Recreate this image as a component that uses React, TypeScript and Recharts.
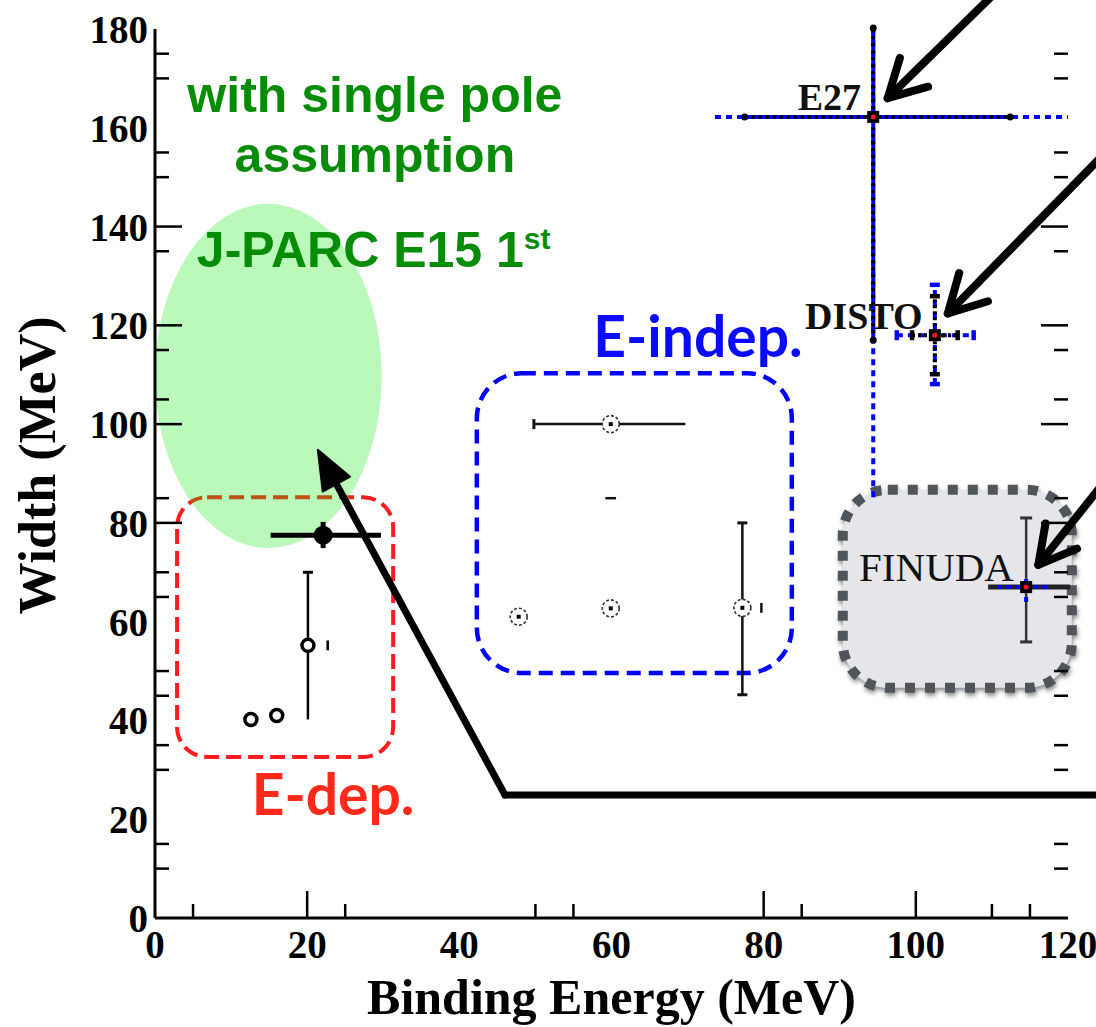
import React from 'react';
import {
  ScatterChart,
  Scatter,
  XAxis,
  YAxis,
  ReferenceLine,
  ReferenceArea,
  ReferenceDot,
} from 'recharts';

// axes
const BE_DOMAIN: [number, number] = [0, 120];
const WIDTH_DOMAIN: [number, number] = [0, 180];

const xLabelTicks = [0, 20, 40, 60, 80, 100, 120];
const xMajorMarks = [20, 80, 100];
const xMinorMarks = [5, 25, 50, 55, 85, 110, 115];
const yLabelTicks = [0, 20, 40, 60, 80, 100, 120, 140, 160, 180];
const yMajorMarks = [80, 100, 120, 140];
const yMinorMarks = [10, 15, 30, 35, 45, 50, 65, 70, 85, 105, 115, 135, 150, 155, 170, 175];

// binding energy (MeV) vs width (MeV)
const eDepOpen = [
  { be: 12.6, w: 40.2 },
  { be: 16.0, w: 41.0 },
  { be: 20.1, w: 55.2 },
];
const eDepFilled = [{ be: 22.1, w: 77.5 }];
const eIndep = [
  { be: 47.8, w: 61.0 },
  { be: 59.9, w: 62.7 },
  { be: 59.9, w: 100.0 },
  { be: 77.2, w: 62.8 },
];
const experiments = [
  { name: 'E27', be: 94.4, w: 162.2 },
  { name: 'DISTO', be: 102.5, w: 118.0 },
  { name: 'FINUDA', be: 114.5, w: 67.0 },
];

type Seg = { from: [number, number]; to: [number, number]; caps?: [boolean, boolean] };

const eDepErrors: Seg[] = [
  { from: [20.1, 40.2], to: [20.1, 70.0], caps: [false, true] },
  { from: [22.7, 54.2], to: [22.7, 56.2] },
];
const eDepFilledErrors: Seg[] = [
  { from: [15.2, 77.5], to: [29.7, 77.5] },
  { from: [22.1, 74.9], to: [22.1, 80.2] },
];
const eIndepErrors: Seg[] = [
  { from: [49.8, 100.0], to: [69.7, 100.0], caps: [true, false] },
  { from: [59.2, 85.0], to: [60.6, 85.0] },
  { from: [77.2, 45.2], to: [77.2, 80.0], caps: [true, true] },
  { from: [79.7, 61.8], to: [79.7, 63.8] },
];
// systematic (blue dotted)
const systErrors: Seg[] = [
  { from: [73.6, 162.2], to: [120.0, 162.2] },
  { from: [94.4, 85.2], to: [94.4, 180.2] },
  { from: [97.5, 118.0], to: [107.6, 118.0], caps: [true, true] },
  { from: [102.5, 108.1], to: [102.5, 128.2], caps: [true, true] },
];
// statistical (black on blue)
const statErrors: Seg[] = [
  { from: [77.5, 162.2], to: [112.4, 162.2], caps: [true, true] },
  { from: [94.4, 117.0], to: [94.4, 180.2], caps: [true, true] },
  { from: [99.5, 118.0], to: [105.5, 118.0], caps: [true, true] },
  { from: [102.5, 110.1], to: [102.5, 125.9], caps: [true, true] },
];
const finudaErrors: Seg[] = [
  { from: [114.5, 55.9], to: [114.5, 81.0], caps: [true, true] },
];
const finudaHoriz: Seg[] = [{ from: [109.5, 67.0], to: [120.3, 67.0] }];
const finudaSyst: Seg[] = [
  { from: [110.7, 67.0], to: [117.4, 67.0] },
  { from: [114.5, 64.0], to: [114.5, 69.2] },
];

// annotation arrows, tail -> tip
const pointerArrows: Seg[] = [
  { from: [110.8, 187.9], to: [96.3, 166.0] },
  { from: [125.5, 155.9], to: [104.2, 122.4] },
  { from: [125.5, 89.7], to: [116.1, 71.5] },
];
const e15Leader: Seg = { from: [126.0, 24.9], to: [46.0, 24.9] };
const e15Arrow: Seg = { from: [46.0, 24.9], to: [21.4, 94.8] };

// regions
const e15Region = { x1: 0, x2: 29.8, y1: 74.9, y2: 144.6 };
const eDepBox = { x1: 2.9, x2: 31.3, y1: 32.6, y2: 85.2 };
const eIndepBox = { x1: 42.3, x2: 83.7, y1: 49.6, y2: 110.3 };
const finudaBox = { x1: 90.4, x2: 120.5, y1: 46.6, y2: 86.7 };

const serif = "'Liberation Serif', 'Times New Roman', serif";
const sans = "'Liberation Sans', Arial, sans-serif";

const tickFont: React.CSSProperties = { fontFamily: serif, fontWeight: 700, fontSize: 39, fill: '#000' };

const BottomTick = ({ x, y, payload }: any) => {
  const v = payload.value;
  const len = xMajorMarks.includes(v) ? 27 : xMinorMarks.includes(v) ? 14 : 0;
  return (
    <g>
      {len > 0 && <line x1={x} x2={x} y1={y} y2={y - len} stroke="#000" strokeWidth={2.5} />}
      {xLabelTicks.includes(v) && (
        <text x={x} y={y + 40} textAnchor="middle" style={tickFont}>
          {v}
        </text>
      )}
    </g>
  );
};

const TopTick = ({ x, y, payload }: any) => {
  const v = payload.value;
  const len = xMajorMarks.includes(v) ? 27 : 14;
  return <line x1={x} x2={x} y1={y} y2={y + len} stroke="#000" strokeWidth={2.5} />;
};

const LeftTick = ({ x, y, payload }: any) => {
  const v = payload.value;
  const len = yMajorMarks.includes(v) ? 27 : yMinorMarks.includes(v) ? 14 : 0;
  return (
    <g>
      {len > 0 && <line x1={x} x2={x + len} y1={y} y2={y} stroke="#000" strokeWidth={2.5} />}
      {yLabelTicks.includes(v) && (
        <text x={x - 7} y={y + 14} textAnchor="end" style={tickFont}>
          {v}
        </text>
      )}
    </g>
  );
};

const RightTick = ({ x, y, payload }: any) => {
  const v = payload.value;
  const len = yMajorMarks.includes(v) ? 27 : 14;
  return <line x1={x} x2={x - len} y1={y} y2={y} stroke="#000" strokeWidth={2.5} />;
};

// error bar segment with optional end caps
const barShape =
  (seg: Seg, stroke: string, width: number, opts: { dash?: string; cap?: number } = {}) =>
  (p: any) => {
    const { x1, y1, x2, y2 } = p;
    const caps = seg.caps || [false, false];
    const vertical = Math.abs(x1 - x2) < Math.abs(y1 - y2);
    const c = opts.cap ?? 6;
    const capAt = (x: number, y: number, key: string) =>
      vertical ? (
        <line key={key} x1={x - c} x2={x + c} y1={y} y2={y} stroke={stroke} strokeWidth={width + 0.5} />
      ) : (
        <line key={key} x1={x} x2={x} y1={y - c} y2={y + c} stroke={stroke} strokeWidth={width + 0.5} />
      );
    return (
      <g>
        <line x1={x1} y1={y1} x2={x2} y2={y2} stroke={stroke} strokeWidth={width} strokeDasharray={opts.dash} />
        {caps[0] && capAt(x1, y1, 'a')}
        {caps[1] && capAt(x2, y2, 'b')}
      </g>
    );
  };

// black dashes laid over a solid blue line
const statShape = (seg: Seg) => (p: any) => {
  const { x1, y1, x2, y2 } = p;
  const caps = seg.caps || [false, false];
  return (
    <g>
      <line x1={x1} y1={y1} x2={x2} y2={y2} stroke="#0000ff" strokeWidth={4} />
      <line x1={x1} y1={y1} x2={x2} y2={y2} stroke="#000" strokeWidth={4} strokeDasharray="3 4" />
      {caps[0] && <circle cx={x1} cy={y1} r={3.5} fill="#000" />}
      {caps[1] && <circle cx={x2} cy={y2} r={3.5} fill="#000" />}
    </g>
  );
};

const arrowShape = (filled: boolean, width: number, len: number) => (p: any) => {
  const { x1, y1, x2, y2 } = p;
  const back = Math.atan2(y1 - y2, x1 - x2);
  const spread = filled ? 0.38 : 0.5;
  const ax = x2 + len * Math.cos(back + spread);
  const ay = y2 + len * Math.sin(back + spread);
  const bx = x2 + len * Math.cos(back - spread);
  const by = y2 + len * Math.sin(back - spread);
  const sx = filled ? x2 + len * 0.8 * Math.cos(back) : x2;
  const sy = filled ? y2 + len * 0.8 * Math.sin(back) : y2;
  return (
    <g strokeLinecap="round" strokeLinejoin="round">
      <line x1={x1} y1={y1} x2={sx} y2={sy} stroke="#000" strokeWidth={width} />
      {len > 0 &&
        (filled ? (
          <polygon points={`${x2},${y2} ${ax},${ay} ${bx},${by}`} fill="#000" stroke="#000" strokeWidth={2} />
        ) : (
          <polyline points={`${ax},${ay} ${x2},${y2} ${bx},${by}`} fill="none" stroke="#000" strokeWidth={width} />
        ))}
    </g>
  );
};

const roundedBox = (stroke: string, strokeWidth: number, dash: string, radius: number, fill = 'none', shadow = false) =>
  (p: any) => (
    <rect
      x={p.x}
      y={p.y}
      width={p.width}
      height={p.height}
      rx={radius}
      ry={radius}
      fill={fill}
      stroke={stroke}
      strokeWidth={strokeWidth}
      strokeDasharray={dash}
      style={shadow ? { filter: 'drop-shadow(1px 3px 2px rgba(0,0,0,0.45))' } : undefined}
    />
  );

const ellipseShape = (p: any) => (
  <ellipse
    cx={p.x + p.width / 2}
    cy={p.y + p.height / 2}
    rx={p.width / 2}
    ry={p.height / 2}
    fill="rgba(0, 232, 0, 0.27)"
  />
);

const OpenCircle = (p: any) => <circle cx={p.cx} cy={p.cy} r={6} fill="#fff" stroke="#000" strokeWidth={3.5} />;
const FilledCircle = (p: any) => <circle cx={p.cx} cy={p.cy} r={9.5} fill="#000" />;
const DottedRing = (p: any) => (
  <g>
    <circle cx={p.cx} cy={p.cy} r={8.5} fill="#fff" stroke="#333" strokeWidth={1.6} strokeDasharray="3 2" />
    <rect x={p.cx - 2} y={p.cy - 2} width={4} height={4} fill="#000" />
  </g>
);
const ExpCenter = (p: any) => (
  <g>
    <rect x={p.cx - 6} y={p.cy - 6} width={12} height={12} fill="#000" />
    <circle cx={p.cx} cy={p.cy} r={2.5} fill="#ff1030" />
  </g>
);

const textAt =
  (text: React.ReactNode, style: React.CSSProperties, anchor: 'start' | 'middle' | 'end' = 'start') =>
  (p: any) => (
    <text x={p.cx} y={p.cy} textAnchor={anchor} style={style}>
      {text}
    </text>
  );

const green = '#078c07';
const noteFont: React.CSSProperties = { fontFamily: sans, fontWeight: 700, fontSize: 50, fill: green };
const tagFont: React.CSSProperties = { fontFamily: "Lato, 'Open Sans', sans-serif", fontWeight: 700, fontSize: 57 };
const expFont: React.CSSProperties = { fontFamily: serif, fontWeight: 700, fontSize: 38, fill: '#111' };

const seg = (s: Seg, key: string, shape: (p: any) => React.ReactElement) => (
  <ReferenceLine
    key={key}
    segment={[
      { x: s.from[0], y: s.from[1] },
      { x: s.to[0], y: s.to[1] },
    ]}
    ifOverflow="visible"
    shape={shape}
  />
);

export default function App() {
  const xTicks = Array.from(new Set([...xLabelTicks, ...xMajorMarks, ...xMinorMarks])).sort((a, b) => a - b);
  const yTicks = Array.from(new Set([...yLabelTicks, ...yMajorMarks, ...yMinorMarks])).sort((a, b) => a - b);
  const xMarks = [...xMajorMarks, ...xMinorMarks].sort((a, b) => a - b);
  const yMarks = [...yMajorMarks, ...yMinorMarks].sort((a, b) => a - b);

  return (
    <div style={{ position: 'absolute', left: 0, top: 0, width: 1096, height: 1027, background: '#fff' }}>
      <ScatterChart width={1096} height={1027} margin={{ top: 28, right: 27, bottom: 108, left: 154 }}>
        <XAxis
          type="number"
          dataKey="be"
          domain={BE_DOMAIN}
          ticks={xTicks}
          interval={0}
          height={1}
          tickSize={0}
          tickMargin={0}
          tickLine={false}
          axisLine={{ stroke: '#000', strokeWidth: 3 }}
          tick={(p: any) => <BottomTick {...p} />}
          allowDataOverflow
        />
        <XAxis
          xAxisId="top"
          orientation="top"
          type="number"
          domain={BE_DOMAIN}
          ticks={xMarks}
          interval={0}
          height={1}
          tickSize={0}
          tickMargin={0}
          tickLine={false}
          axisLine={false}
          tick={(p: any) => <TopTick {...p} />}
          allowDataOverflow
        />
        <YAxis
          type="number"
          dataKey="w"
          domain={WIDTH_DOMAIN}
          ticks={yTicks}
          interval={0}
          width={1}
          tickSize={0}
          tickMargin={0}
          tickLine={false}
          axisLine={{ stroke: '#000', strokeWidth: 3 }}
          tick={(p: any) => <LeftTick {...p} />}
          allowDataOverflow
        />
        <YAxis
          yAxisId="right"
          orientation="right"
          type="number"
          domain={WIDTH_DOMAIN}
          ticks={yMarks}
          interval={0}
          width={1}
          tickSize={0}
          tickMargin={0}
          tickLine={false}
          axisLine={false}
          tick={(p: any) => <RightTick {...p} />}
          allowDataOverflow
        />

        {/* grouping boxes */}
        <ReferenceArea {...eDepBox} ifOverflow="visible" shape={roundedBox('#ff1c1c', 4, '15 7', 30)} />
        <ReferenceArea {...e15Region} ifOverflow="visible" shape={ellipseShape} />
        <ReferenceArea {...eIndepBox} ifOverflow="visible" shape={roundedBox('#0000ff', 4.5, '14 8', 45)} />
        <ReferenceArea
          {...finudaBox}
          ifOverflow="visible"
          shape={roundedBox('#50555c', 10, '10 10', 45, '#e6e6ea', true)}
        />

        {/* error bars */}
        {eDepErrors.map((s, i) => seg(s, `ed${i}`, barShape(s, '#000', 2.5, { cap: 5 })))}
        {eDepFilledErrors.map((s, i) => seg(s, `ef${i}`, barShape(s, '#000', 5)))}
        {eIndepErrors.map((s, i) => seg(s, `ei${i}`, barShape(s, '#111', 2.5, { cap: 5 })))}
        {systErrors.map((s, i) => seg(s, `sy${i}`, barShape(s, '#0000ff', 4, { dash: '6 5', cap: 5 })))}
        {statErrors.map((s, i) =>
          seg(s, `st${i}`, i < 2 ? statShape(s) : barShape(s, '#000', 4, { dash: '3 3', cap: 5 })),
        )}
        {finudaErrors.map((s, i) => seg(s, `fe${i}`, barShape(s, '#333', 2.5, { cap: 6 })))}
        {finudaHoriz.map((s, i) => seg(s, `fh${i}`, barShape(s, '#222', 5)))}
        {finudaSyst.map((s, i) => seg(s, `fs${i}`, barShape(s, '#0000ff', 4, { dash: '5 4' })))}

        <Scatter data={eDepOpen} shape={OpenCircle} isAnimationActive={false} />
        <Scatter data={eDepFilled} shape={FilledCircle} isAnimationActive={false} />
        <Scatter data={eIndep} shape={DottedRing} isAnimationActive={false} />
        <Scatter data={experiments} shape={ExpCenter} isAnimationActive={false} />

        {/* labels */}
        <ReferenceDot x={28.9} y={163.2} ifOverflow="visible" shape={textAt('with single pole', noteFont, 'middle')} />
        <ReferenceDot x={28.9} y={151.0} ifOverflow="visible" shape={textAt('assumption', noteFont, 'middle')} />
        <ReferenceDot
          x={5.5}
          y={131.8}
          ifOverflow="visible"
          shape={textAt(
            <>
              J-PARC E15 1
              <tspan dy={-18} fontSize={30}>
                st
              </tspan>
            </>,
            noteFont,
          )}
        />
        <ReferenceDot x={57.6} y={113.6} ifOverflow="visible" shape={textAt('E-indep.', { ...tagFont, fill: '#0a0aff' })} />
        <ReferenceDot x={12.7} y={20.9} ifOverflow="visible" shape={textAt('E-dep.', { ...tagFont, fill: '#ff2a1a' })} />
        {experiments.map((e) => (
          <ReferenceDot
            key={e.name}
            x={e.be - 1.6}
            y={e.w + 1.3}
            ifOverflow="visible"
            shape={textAt(e.name, e.name === 'FINUDA' ? { ...expFont, fontWeight: 400, fontSize: 41 } : expFont, 'end')}
          />
        ))}

        {/* arrows */}
        {seg(e15Leader, 'lead', arrowShape(false, 7, 0))}
        {seg(e15Arrow, 'e15', arrowShape(true, 7, 42))}
        {pointerArrows.map((s, i) => seg(s, `pa${i}`, arrowShape(false, 8, 42)))}

        {/* axis titles */}
        <ReferenceDot
          x={60}
          y={0}
          ifOverflow="visible"
          shape={(p: any) => (
            <text x={p.cx} y={p.cy + 96} textAnchor="middle" style={{ fontFamily: serif, fontWeight: 700, fontSize: 50 }}>
              Binding Energy (MeV)
            </text>
          )}
        />
        <ReferenceDot
          x={0}
          y={90}
          ifOverflow="visible"
          shape={(p: any) => (
            <text
              x={p.cx - 100}
              y={p.cy - 8}
              textAnchor="middle"
              transform={`rotate(-90 ${p.cx - 100} ${p.cy - 8})`}
              style={{ fontFamily: serif, fontWeight: 700, fontSize: 52 }}
            >
              Width (MeV)
            </text>
          )}
        />
      </ScatterChart>
    </div>
  );
}
